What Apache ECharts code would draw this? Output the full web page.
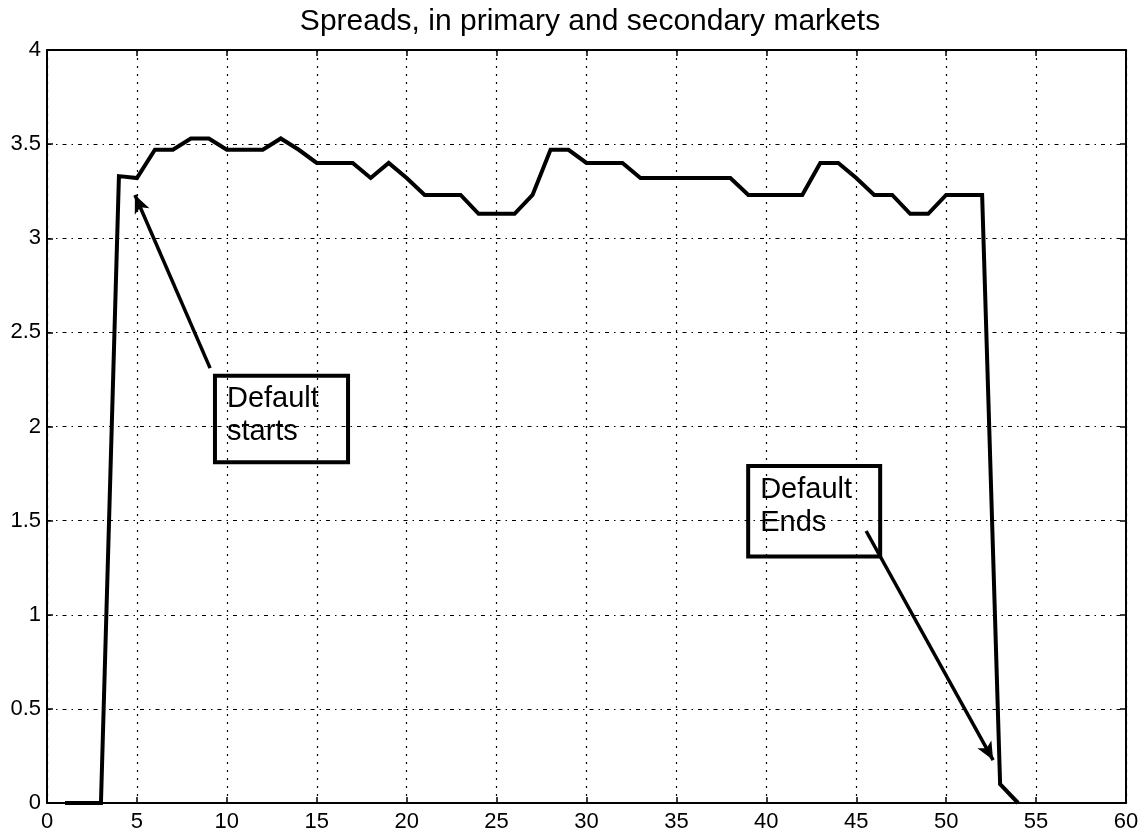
<!DOCTYPE html>
<html>
<head>
<meta charset="utf-8">
<script src="https://cdn.jsdelivr.net/npm/echarts@6/dist/echarts.min.js"></script>
<style>html,body{margin:0;padding:0;background:#fff}#c{width:1144px;height:838px}</style>
</head>
<body>
<div id="c"></div>
<script>
var chartTitle = 'Spreads, in primary and secondary markets';
var xValues = [1,2,3,4,5,6,7,8,9,10,11,12,13,14,15,16,17,18,19,20,21,22,23,24,25,26,27,28,29,30,31,32,33,34,35,36,37,38,39,40,41,42,43,44,45,46,47,48,49,50,51,52,53,54];
var spreadValues = [0,0,0,3.33,3.32,3.47,3.47,3.53,3.53,3.47,3.47,3.47,3.53,3.47,3.40,3.40,3.40,3.32,3.40,3.32,3.23,3.23,3.23,3.13,3.13,3.13,3.23,3.47,3.47,3.40,3.40,3.40,3.32,3.32,3.32,3.32,3.32,3.32,3.23,3.23,3.23,3.23,3.40,3.40,3.32,3.23,3.23,3.13,3.13,3.23,3.23,3.23,0.10,0];
var xTicks = [0,5,10,15,20,25,30,35,40,45,50,55,60];
var yTicks = [0,0.5,1,1.5,2,2.5,3,3.5,4];
// annotations (data coordinates)
var boxStartsText = 'Default\nstarts';
var boxStarts = [[9.34, 2.27], [16.74, 1.81]];
var arrowStarts = [[9.07, 2.31], [4.89, 3.23]];
var boxEndsText = 'Default\nEnds';
var boxEnds = [[38.99, 1.79], [46.33, 1.31]];
var arrowEnds = [[45.55, 1.445], [52.61, 0.228]];

var pts = xValues.map(function(x, i){ return [x, spreadValues[i]]; });
var font = '"Liberation Sans", Arial, Helvetica, sans-serif';
var gridLineV = {show:true, lineStyle:{color:'#000', width:1.2, type:[2,6]}};
var gridLineH = {show:true, lineStyle:{color:'#000', width:1.2, type:[4,5,1.5,5]}};

var chart = echarts.init(document.getElementById('c'));
chart.setOption({
  animation: false,
  backgroundColor: '#fff',
  title: {text: chartTitle, left: 585, textAlign: 'center', top: 2,
          textStyle:{fontFamily: font, fontSize: 30, fontWeight: 'normal', color:'#000'}},
  grid: {left: 47, top: 50, right: 18, bottom: 35},
  xAxis: [{
    type: 'value', min: 0, max: 60, interval: 5, position: 'bottom',
    axisLine: {show:true, onZero:false, lineStyle:{color:'#000', width:2}},
    axisTick: {show:true, inside:true, length:6, lineStyle:{color:'#000', width:1.5}},
    axisLabel: {color:'#000', fontFamily: font, fontSize: 22, margin: 8,
                showMinLabel: true, showMaxLabel: true, hideOverlap: false,
                formatter: function(v){ return xTicks.indexOf(v) >= 0 ? String(v) : ''; }},
    splitLine: gridLineV
  },{
    type: 'value', min: 0, max: 60, interval: 5, position: 'top',
    axisLine: {show:true, onZero:false, lineStyle:{color:'#000', width:2}},
    axisTick: {show:true, inside:true, length:6, lineStyle:{color:'#000', width:1.5}},
    axisLabel: {show:false}, splitLine: {show:false}
  }],
  yAxis: [{
    type: 'value', min: 0, max: 4, interval: 0.5, position: 'left',
    axisLine: {show:true, onZero:false, lineStyle:{color:'#000', width:2}},
    axisTick: {show:true, inside:true, length:6, lineStyle:{color:'#000', width:1.5}},
    axisLabel: {color:'#000', fontFamily: font, fontSize: 22, margin: 6,
                showMinLabel: true, showMaxLabel: true, hideOverlap: false,
                formatter: function(v){ return yTicks.indexOf(v) >= 0 ? String(v) : ''; }},
    splitLine: gridLineH
  },{
    type: 'value', min: 0, max: 4, interval: 0.5, position: 'right',
    axisLine: {show:true, onZero:false, lineStyle:{color:'#000', width:2}},
    axisTick: {show:true, inside:true, length:6, lineStyle:{color:'#000', width:1.5}},
    axisLabel: {show:false}, splitLine: {show:false}
  }],
  series: [{
    type: 'line', data: pts, xAxisIndex: 0, yAxisIndex: 0,
    showSymbol: false, symbol: 'none',
    lineStyle: {color:'#000', width: 4, join: 'miter'},
    z: 5,
    markArea: {
      silent: true,
      itemStyle: {color:'rgba(255,255,255,0)', borderColor:'#000', borderWidth: 4},
      label: {show:true, position:'insideTopLeft', color:'#000', fontFamily: font,
              fontSize: 29, lineHeight: 33, distance: 5, offset: [9, 4]},
      data: [
        [{coord: boxStarts[0], name: boxStartsText}, {coord: boxStarts[1]}],
        [{coord: boxEnds[0], name: boxEndsText}, {coord: boxEnds[1]}]
      ]
    },
    markLine: {
      silent: true, symbol: ['none','arrow'], symbolSize: [12, 18],
      label: {show:false},
      lineStyle: {color:'#000', width: 3.5, type:'solid'},
      data: [
        [{coord: arrowStarts[0]}, {coord: arrowStarts[1]}],
        [{coord: arrowEnds[0]}, {coord: arrowEnds[1]}]
      ]
    }
  }]
});
</script>
</body>
</html>
